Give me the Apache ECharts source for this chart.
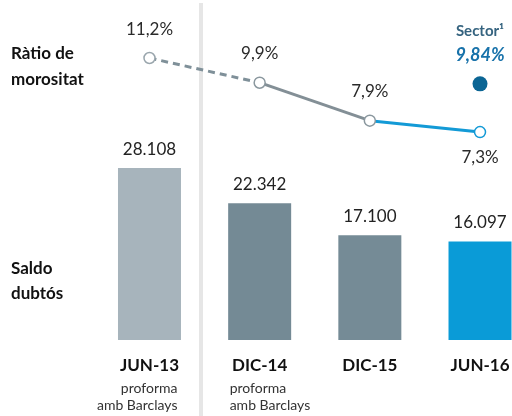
<!DOCTYPE html>
<html>
<head>
<meta charset="utf-8">
<script src="https://cdn.jsdelivr.net/npm/echarts@6/dist/echarts.min.js"></script>
<style>
  html, body { margin: 0; padding: 0; background: #fff; }
  #chart { width: 512px; height: 416px; }
</style>
</head>
<body>
<div id="chart"></div>
<script>
// dades
const categories = ['JUN-13', 'DIC-14', 'DIC-15', 'JUN-16'];
const subLabels = ['proforma\namb Barclays', 'proforma\namb Barclays', '', ''];
const saldoDubtos = [28108, 22342, 17100, 16097];
const ratioMorositat = [11.2, 9.9, 7.9, 7.3];
const sectorRatio = 9.84;

const barColors = ['#a7b4bc', '#748a95', '#758b96', '#0a9bd7'];
const markerColors = ['#9aa6ad', '#8a979e', '#8a979e', '#139ad6'];
const FONT = 'Lato';

// 28108 -> "28.108"
function fmtMiles(v) {
  return String(v).replace(/\B(?=(\d{3})+(?!\d))/g, '.');
}
function fmtPct(v) {
  return String(v).replace('.', ',') + '%';
}

// trams de la línia
const dashedPart = ratioMorositat.map((v, i) => (i <= 1 ? v : '-'));
const grayPart = ratioMorositat.map((v, i) => (i >= 1 && i <= 2 ? v : '-'));
const bluePart = ratioMorositat.map((v, i) => (i >= 2 ? v : '-'));

const chart = echarts.init(document.getElementById('chart'));

const option = {
  backgroundColor: '#fff',
  animation: false,
  grid: { left: 94.4, width: 440.7, top: 0, bottom: 76, containLabel: false, outerBoundsMode: 'none' },
  xAxis: {
    type: 'category',
    data: categories,
    axisLine: { show: false },
    axisTick: { show: false },
    axisLabel: {
      margin: 17,
      fontFamily: FONT,
      fontWeight: 'bold',
      fontSize: 17,
      color: '#111'
    }
  },
  yAxis: [
    { type: 'value', min: 0, max: 55560, show: false },
    { type: 'value', min: -3.642, max: 14.253, show: false }
  ],
  series: [
    {
      type: 'bar',
      barWidth: 63,
      data: saldoDubtos.map((v, i) => ({ value: v, itemStyle: { color: barColors[i] } })),
      label: {
        show: true,
        position: 'top',
        distance: 10,
        fontFamily: FONT,
        fontSize: 17,
        color: '#222',
        formatter: p => fmtMiles(p.value)
      }
    },
    {
      type: 'line',
      yAxisIndex: 1,
      data: dashedPart,
      symbol: 'none',
      lineStyle: { color: '#7f9099', width: 3, type: [7, 5] },
      z: 3
    },
    {
      type: 'line',
      yAxisIndex: 1,
      data: grayPart,
      symbol: 'none',
      lineStyle: { color: '#838f96', width: 3 },
      z: 3
    },
    {
      type: 'line',
      yAxisIndex: 1,
      data: bluePart,
      symbol: 'none',
      lineStyle: { color: '#139ad6', width: 3 },
      z: 3
    },
    {
      type: 'scatter',
      yAxisIndex: 1,
      symbol: 'circle',
      symbolSize: 11,
      z: 4,
      data: ratioMorositat.map((v, i) => ({
        value: v,
        itemStyle: { color: '#fff', borderColor: markerColors[i], borderWidth: 1.5, opacity: 1 },
        label: i === ratioMorositat.length - 1
          ? { position: 'bottom', distance: 11 }
          : { position: 'top', distance: 14 }
      })),
      label: {
        show: true,
        fontFamily: FONT,
        fontSize: 17,
        color: '#2a2a2a',
        formatter: p => fmtPct(p.value)
      }
    },
    {
      type: 'scatter',
      yAxisIndex: 1,
      symbol: 'circle',
      symbolSize: 15,
      z: 4,
      data: ['-', '-', '-', sectorRatio],
      itemStyle: { color: '#0b6594', opacity: 1 },
      label: {
        show: true,
        position: 'top',
        distance: 9,
        formatter: p => '{a|Sector¹}\n{b|' + fmtPct(p.value) + '}',
        rich: {
          a: { fontFamily: FONT, fontWeight: 'bold', fontSize: 15, color: '#35637f', lineHeight: 24 },
          b: { fontFamily: FONT, fontWeight: 'bold', fontStyle: 'italic', fontSize: 18, color: '#1872aa', lineHeight: 24 }
        }
      }
    }
  ],
  graphic: [
    { type: 'rect', shape: { x: 199, y: 3, width: 4, height: 413 }, style: { fill: '#e6e6e6' }, z: 0 },
    {
      type: 'text', left: 11, top: 41, z: 10,
      style: { text: 'Ràtio de\nmorositat', font: 'bold 17px Lato', fill: '#111', lineHeight: 26 }
    },
    {
      type: 'text', left: 11, top: 256, z: 10,
      style: { text: 'Saldo\ndubtós', font: 'bold 17px Lato', fill: '#111', lineHeight: 25 }
    }
  ]
};

chart.setOption(option);

// sub-etiquetes sota les categories
const halfBar = 31;
const subGraphics = [];
subLabels.forEach((txt, i) => {
  if (!txt) return;
  const cx = chart.convertToPixel({ xAxisIndex: 0 }, categories[i]);
  const alignRight = i === 0;
  subGraphics.push({
    type: 'text',
    x: alignRight ? cx + halfBar - 3 : cx - halfBar + 1,
    y: 380,
    z: 10,
    style: {
      text: txt,
      font: '14px Lato',
      fill: '#333',
      lineHeight: 17,
      align: alignRight ? 'right' : 'left'
    }
  });
});
chart.setOption({ graphic: option.graphic.concat(subGraphics) });
</script>
</body>
</html>
